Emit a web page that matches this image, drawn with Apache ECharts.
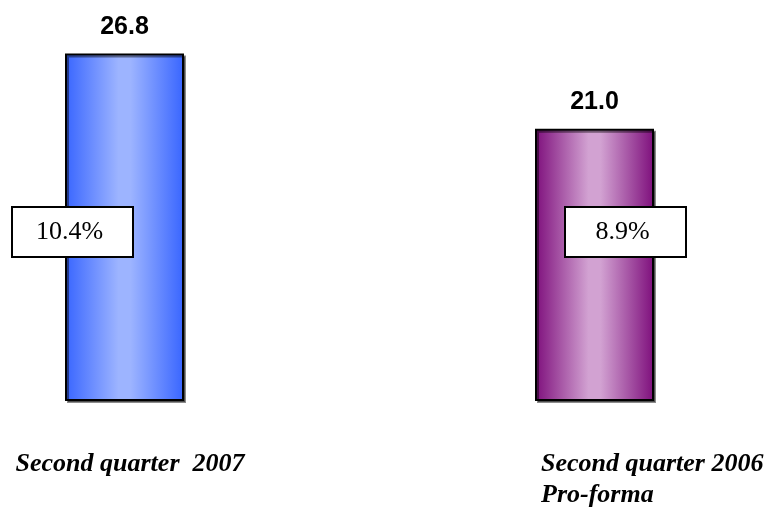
<!DOCTYPE html>
<html>
<head>
<meta charset="utf-8">
<script src="https://cdn.jsdelivr.net/npm/echarts@6/dist/echarts.min.js"></script>
<style>
  html, body { margin: 0; padding: 0; background: #ffffff; }
  #chart { width: 770px; height: 523px; }
</style>
</head>
<body>
<div id="chart"></div>
<script>
// Quarterly figures
const categories = ['Second quarter  2007', 'Second quarter 2006'];
const subLabels = ['', 'Pro-forma'];
const values = [26.8, 21.0];
const shares = ['10.4%', '8.9%'];

// Horizontal "cylinder" shading for each bar
const barPalettes = [
  { edge: '#3865ff', mid: '#9db4ff' },
  { edge: '#7e0f7c', mid: '#d2a2d2' }
];

function shade(p) {
  return new echarts.graphic.LinearGradient(0, 0, 1, 0, [
    { offset: 0, color: p.edge },
    { offset: 0.45, color: p.mid },
    { offset: 0.55, color: p.mid },
    { offset: 1, color: p.edge }
  ]);
}

const chart = echarts.init(document.getElementById('chart'), null, { renderer: 'canvas' });

chart.setOption({
  animation: false,
  backgroundColor: '#ffffff',
  grid: { left: 124.5, right: 175.5, top: 12, bottom: 122 },
  xAxis: {
    type: 'category',
    data: categories,
    boundaryGap: false,
    axisLine: { show: false },
    axisTick: { show: false },
    axisLabel: { show: false },
    splitLine: { show: false }
  },
  yAxis: {
    type: 'value',
    min: 0,
    max: 30,
    show: false,
    splitLine: { show: false }
  },
  series: [{
    type: 'bar',
    clip: false,
    barWidth: 119,
    data: values.map((v, i) => ({
      value: v,
      itemStyle: {
        color: shade(barPalettes[i]),
        borderColor: '#000000',
        borderWidth: 2,
        shadowColor: 'rgba(0,0,0,0.45)',
        shadowOffsetX: 2,
        shadowOffsetY: 2,
        shadowBlur: 0
      }
    })),
    label: {
      show: true,
      position: 'top',
      distance: 14,
      formatter: p => p.value.toFixed(1),
      fontFamily: 'Liberation Sans, Arial, sans-serif',
      fontWeight: 'bold',
      fontSize: 25,
      color: '#000000'
    }
  }]
});

// Share boxes and category captions, placed relative to each bar's centre
const boxOffsets = [-112.5, -29.5];
const boxTop = 207, boxW = 121, boxH = 50;
const graphics = [];

categories.forEach((name, i) => {
  const cx = chart.convertToPixel({ xAxisIndex: 0, yAxisIndex: 0 }, [i, 0])[0];
  const bx = cx + boxOffsets[i];
  graphics.push({
    type: 'group',
    x: bx,
    y: boxTop,
    z: 100,
    children: [
      {
        type: 'rect',
        z: 100,
        shape: { x: 0, y: 0, width: boxW, height: boxH },
        style: { fill: '#ffffff', stroke: '#000000', lineWidth: 2 }
      },
      {
        type: 'text',
        z: 101,
        x: boxW / 2 - 3,
        y: boxH / 2,
        style: {
          text: shares[i],
          fontFamily: 'Liberation Serif, Times New Roman, serif',
          fontSize: 26,
          fill: '#000000',
          align: 'center',
          verticalAlign: 'middle'
        }
      }
    ]
  });
});

const captionFont = {
  fontFamily: 'Liberation Serif, Times New Roman, serif',
  fontSize: 26,
  fontWeight: 'bold',
  fontStyle: 'italic',
  fill: '#000000',
  verticalAlign: 'middle'
};

const c0 = chart.convertToPixel({ xAxisIndex: 0, yAxisIndex: 0 }, [0, 0])[0];
const c1 = chart.convertToPixel({ xAxisIndex: 0, yAxisIndex: 0 }, [1, 0])[0];

graphics.push({
  type: 'text', x: c0 + 120, y: 464,
  style: Object.assign({ text: categories[0], align: 'right' }, captionFont)
});
graphics.push({
  type: 'text', x: c1 - 53.5, y: 464,
  style: Object.assign({ text: categories[1], align: 'left' }, captionFont)
});
graphics.push({
  type: 'text', x: c1 - 53.5, y: 495,
  style: Object.assign({ text: subLabels[1], align: 'left' }, captionFont)
});

chart.setOption({ graphic: graphics });
</script>
</body>
</html>
